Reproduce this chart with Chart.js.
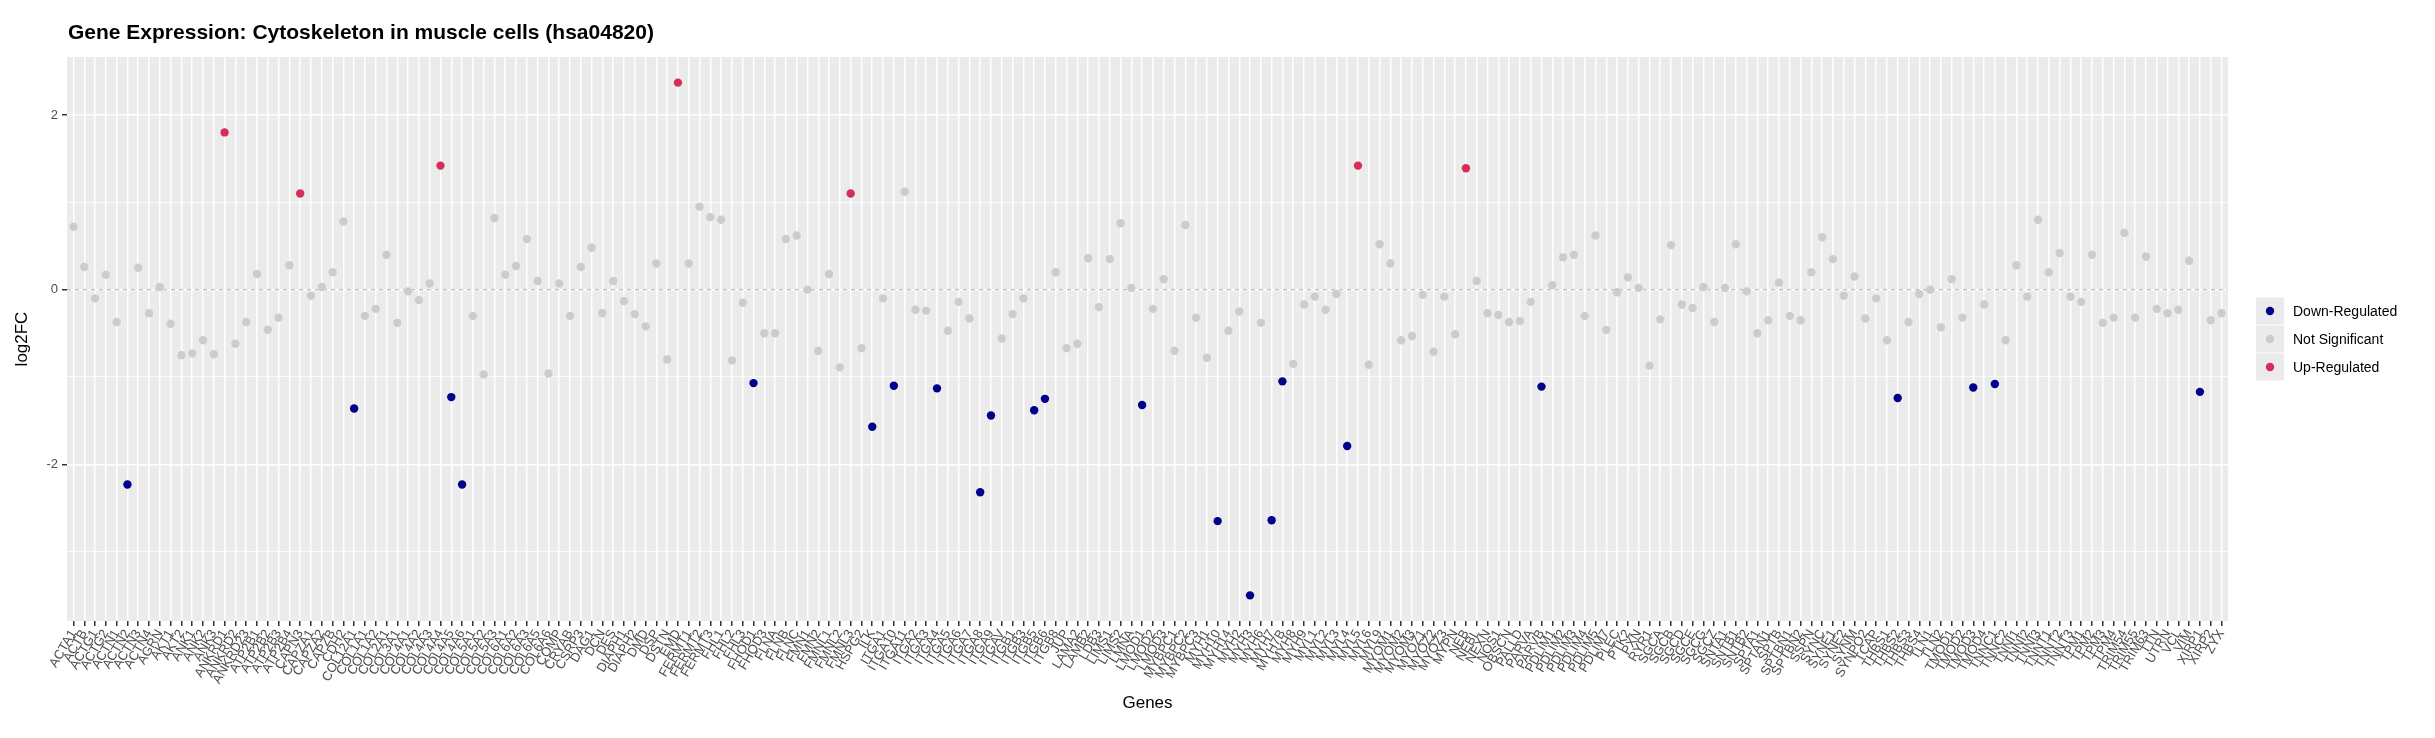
<!DOCTYPE html>
<html><head><meta charset="utf-8">
<script src="https://cdn.jsdelivr.net/npm/chart.js@4.4.1/dist/chart.umd.min.js"></script>
<style>html,body{margin:0;padding:0;background:#fff;}canvas{display:block;}</style>
</head><body>
<canvas id="c" width="2435" height="738" style="width:2435px;height:738px"></canvas>
<script>
const chartTitle = 'Gene Expression: Cytoskeleton in muscle cells (hsa04820)';
const genes = [
'ACTA1','ACTB','ACTG1','ACTG2','ACTN1','ACTN2','ACTN3','ACTN4','AGRN','AKT1',
'AKT2','ANK1','ANK2','ANK3','ANKRD1','ANKRD2','ANKRD23','ATP2B1','ATP2B2','ATP2B3',
'ATP2B4','CAPN3','CAPZA1','CAPZA2','CAPZB','CDH2','COL12A1','COL1A1','COL1A2','COL2A1',
'COL3A1','COL4A1','COL4A2','COL4A3','COL4A4','COL4A5','COL4A6','COL5A1','COL5A2','COL5A3',
'COL6A1','COL6A2','COL6A3','COL6A5','COL6A6','COMP','CRYAB','CSRP3','DAG1','DCN',
'DES','DIAPH1','DIAPH2','DMD','DSP','DSTN','EMD','FERMT1','FERMT2','FERMT3',
'FHL1','FHL2','FHL3','FHOD1','FHOD3','FLNA','FLNB','FLNC','FMN1','FMN2',
'FMNL1','FMNL2','FMNL3','HSPG2','ILK','ITGA1','ITGA10','ITGA11','ITGA2','ITGA3',
'ITGA4','ITGA5','ITGA6','ITGA7','ITGA8','ITGA9','ITGAV','ITGB1','ITGB3','ITGB5',
'ITGB6','ITGB8','JUP','LAMA2','LAMB2','LDB3','LIMS1','LIMS2','LMNA','LMOD1',
'LMOD2','LMOD3','MYBPC1','MYBPC2','MYBPC3','MYH1','MYH10','MYH14','MYH2','MYH3',
'MYH6','MYH7','MYH7B','MYH8','MYH9','MYL1','MYL2','MYL3','MYL4','MYL5',
'MYL6','MYL9','MYOM1','MYOM2','MYOM3','MYOZ1','MYOZ2','MYOZ3','MYPN','NEB',
'NEBL','NEXN','NOS1','OBSCN','PALLD','PARVA','PARVB','PDLIM1','PDLIM2','PDLIM3',
'PDLIM4','PDLIM5','PDLIM7','PLEC','PTK2','PXN','RYR1','SGCA','SGCB','SGCD',
'SGCE','SGCG','SGCZ','SNTA1','SNTB1','SNTB2','SPTA1','SPTAN1','SPTB','SPTBN1',
'SPTBN2','SSPN','SYNC','SYNE1','SYNE2','SYNM','SYNPO2','TCAP','THBS1','THBS2',
'THBS3','THBS4','TLN1','TLN2','TMOD1','TMOD2','TMOD3','TMOD4','TNNC1','TNNC2',
'TNNI1','TNNI2','TNNI3','TNNT1','TNNT2','TNNT3','TPM1','TPM2','TPM3','TPM4',
'TRIM54','TRIM55','TRIM63','TTN','UTRN','VCL','VIM','XIRP1','XIRP2','ZYX'
];
const log2FC = [
0.72,0.26,-0.10,0.17,-0.37,-2.23,0.25,-0.27,0.03,-0.39,
-0.75,-0.73,-0.58,-0.74,1.80,-0.62,-0.37,0.18,-0.46,-0.32,
0.28,1.10,-0.07,0.03,0.20,0.78,-1.36,-0.30,-0.22,0.40,
-0.38,-0.02,-0.12,0.07,1.42,-1.23,-2.23,-0.30,-0.97,0.82,
0.17,0.27,0.58,0.10,-0.96,0.07,-0.30,0.26,0.48,-0.27,
0.10,-0.13,-0.28,-0.42,0.30,-0.80,2.37,0.30,0.95,0.83,
0.80,-0.81,-0.15,-1.07,-0.50,-0.50,0.58,0.62,0.00,-0.70,
0.18,-0.89,1.10,-0.67,-1.57,-0.10,-1.10,1.12,-0.23,-0.24,
-1.13,-0.47,-0.14,-0.33,-2.32,-1.44,-0.56,-0.28,-0.10,-1.38,
-1.25,0.20,-0.67,-0.62,0.36,-0.20,0.35,0.76,0.02,-1.32,
-0.22,0.12,-0.70,0.74,-0.32,-0.78,-2.65,-0.47,-0.25,-3.50,
-0.38,-2.64,-1.05,-0.85,-0.17,-0.08,-0.23,-0.05,-1.79,1.42,
-0.86,0.52,0.30,-0.58,-0.53,-0.06,-0.71,-0.08,-0.51,1.39,
0.10,-0.27,-0.29,-0.37,-0.36,-0.14,-1.11,0.05,0.37,0.40,
-0.30,0.62,-0.46,-0.03,0.14,0.02,-0.87,-0.34,0.51,-0.17,
-0.21,0.03,-0.37,0.02,0.52,-0.02,-0.50,-0.35,0.08,-0.30,
-0.35,0.20,0.60,0.35,-0.07,0.15,-0.33,-0.10,-0.58,-1.24,
-0.37,-0.05,0.00,-0.43,0.12,-0.32,-1.12,-0.17,-1.08,-0.58,
0.28,-0.08,0.80,0.20,0.42,-0.08,-0.14,0.40,-0.38,-0.32,
0.65,-0.32,0.38,-0.22,-0.27,-0.23,0.33,-1.17,-0.35,-0.27
];
const upGenes = ['ANKRD1','CAPN3','COL4A4','EMD','FMNL3','MYL5','NEB'];
const downGenes = ['ACTN2','COL12A1','COL4A5','COL4A6','FHOD1','ILK','ITGA10','ITGA4','ITGA8','ITGA9',
'ITGB5','ITGB6','LMOD1','MYH10','MYH3','MYH7','MYH7B','MYL4','PARVB','THBS2','TMOD3','TNNC1','XIRP1'];
const groupNames = ['Down-Regulated','Not Significant','Up-Regulated'];
const yMajorTicks = [-2, 0, 2];
const yMinorTicks = [-3, -1, 1];

const groupColors = {'Down-Regulated':'#00008B','Not Significant':'#CCCCCC','Up-Regulated':'#D62D59'};
const FONT = '"Liberation Sans", Arial, Helvetica, sans-serif';
Chart.defaults.font.family = FONT;

function groupOf(g){ return downGenes.includes(g) ? 'Down-Regulated' : (upGenes.includes(g) ? 'Up-Regulated' : 'Not Significant'); }
const datasets = groupNames.map(name => ({
  label: name,
  data: genes.map((g,i)=>({x:i, y:log2FC[i], g})).filter(p => groupOf(p.g) === name),
  backgroundColor: groupColors[name],
  borderWidth: 0,
  pointRadius: 4.2,
  pointHoverRadius: 4.2
}));

const vMax = Math.max(...log2FC), vMin = Math.min(...log2FC);
const pad = (vMax - vMin) * 0.05;
const yAll = yMajorTicks.concat(yMinorTicks).sort((a,b)=>a-b);

const decor = {
  id:'decor',
  beforeDraw(chart){
    const {ctx, chartArea:a} = chart;
    ctx.save();
    ctx.fillStyle = '#FFFFFF'; ctx.fillRect(0,0,chart.width,chart.height);
    ctx.fillStyle = '#EBEBEB';
    ctx.fillRect(a.left, a.top, a.right-a.left, a.bottom-a.top);
    ctx.restore();
  },
  beforeDatasetsDraw(chart){
    const {ctx, chartArea:a} = chart;
    const y0 = chart.scales.y.getPixelForValue(0);
    ctx.save();
    ctx.strokeStyle = '#BEBEBE'; ctx.lineWidth = 1.2; ctx.setLineDash([4,4]);
    ctx.beginPath(); ctx.moveTo(a.left, y0); ctx.lineTo(a.right, y0); ctx.stroke();
    ctx.restore();
  },
  afterDraw(chart){
    const {ctx, chartArea:a} = chart;
    ctx.save();
    ctx.fillStyle = '#000000';
    ctx.font = 'bold 21px ' + FONT;
    ctx.textBaseline = 'middle'; ctx.textAlign = 'left';
    ctx.fillText(chartTitle, a.left + 1, 33);
    // legend
    const key = 28;
    const lx = a.right + 28;
    const ly = (a.top + a.bottom)/2 - key*groupNames.length/2;
    groupNames.forEach((name, k) => {
      const y = ly + k*key;
      ctx.fillStyle = '#EBEBEB';
      ctx.fillRect(lx, y+0.5, key, key-1);
      ctx.fillStyle = groupColors[name];
      ctx.beginPath(); ctx.arc(lx + key/2, y + key/2, 4.2, 0, Math.PI*2); ctx.fill();
      ctx.fillStyle = '#000000';
      ctx.font = '14px ' + FONT;
      ctx.textBaseline = 'middle';
      ctx.fillText(name, lx + key + 9, y + key/2 + 1);
    });
    ctx.restore();
  }
};

new Chart(document.getElementById('c'), {
  type: 'scatter',
  data: { datasets },
  options: {
    responsive: false,
    animation: false,
    devicePixelRatio: 1,
    events: [],
    layout: { padding: { top: 57, right: 207, bottom: 0, left: 0 } },
    plugins: { legend: { display: false }, tooltip: { enabled: false }, title: { display: false } },
    scales: {
      x: {
        type: 'linear',
        min: -0.6, max: genes.length - 0.4,
        afterBuildTicks: s => { s.ticks = genes.map((g,i)=>({value:i})); },
        afterFit: s => { s.height = 117; },
        border: { display: false },
        grid: { color: '#FFFFFF', lineWidth: 1.5, tickColor: '#333333', tickLength: 5, drawTicks: true },
        ticks: { autoSkip: false, minRotation: 60, maxRotation: 60, padding: 1,
                 color: '#4D4D4D', font: { size: 13 },
                 callback: v => genes[v] },
        title: { display: true, text: 'Genes', color: '#000000', font: { size: 17 }, padding: { top: 0, bottom: 24 } }
      },
      y: {
        type: 'linear',
        min: vMin - pad, max: vMax + pad,
        afterBuildTicks: s => { s.ticks = yAll.map(v=>({value:v})); },
        afterFit: s => { s.width = 67; },
        border: { display: false },
        grid: {
          color: '#FFFFFF',
          lineWidth: c => (c.tick && yMajorTicks.includes(c.tick.value)) ? 1.5 : 0.75,
          tickColor: c => (c.tick && yMajorTicks.includes(c.tick.value)) ? '#333333' : 'rgba(0,0,0,0)',
          tickLength: 5, drawTicks: true
        },
        ticks: { color: '#4D4D4D', font: { size: 13 }, padding: 4,
                 callback: v => yMajorTicks.includes(v) ? String(v) : '' },
        title: { display: true, text: 'log2FC', color: '#000000', font: { size: 17 }, padding: { top: 12, bottom: 0 } }
      }
    }
  },
  plugins: [decor]
});
</script>
</body></html>
